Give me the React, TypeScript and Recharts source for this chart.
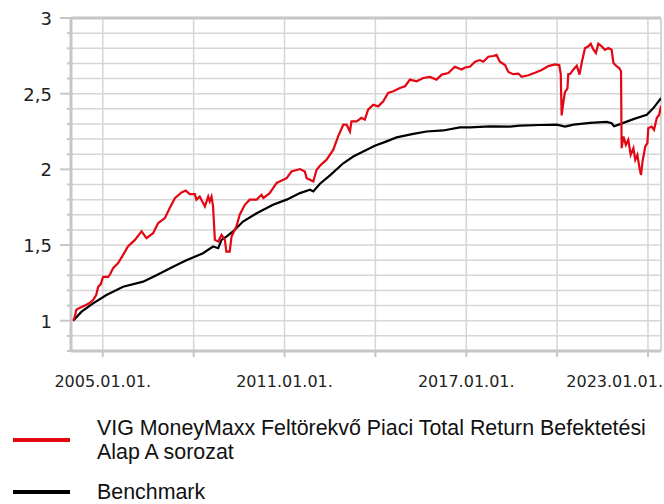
import React from "react";
import { LineChart, Line, XAxis, YAxis, CartesianGrid, ReferenceLine } from "recharts";

// Fund (red) series: time in fractional years, value = indexed NAV
const fundTimes = [
  2004.02, 2004.08, 2004.12, 2004.18, 2004.41, 2004.55, 2004.68, 2004.78, 2004.85, 2004.93,
  2005.01, 2005.18, 2005.25, 2005.34, 2005.5, 2005.67, 2005.83, 2006.06, 2006.28, 2006.44,
  2006.66, 2006.83, 2007.05, 2007.21, 2007.38, 2007.6, 2007.74, 2007.87, 2008.04, 2008.09,
  2008.2, 2008.37, 2008.48, 2008.53, 2008.59, 2008.64, 2008.7, 2008.81, 2008.92, 2009.03,
  2009.08, 2009.19, 2009.25, 2009.41, 2009.52, 2009.69, 2009.85, 2010.08, 2010.24, 2010.3,
  2010.51, 2010.74, 2011.07, 2011.23, 2011.51, 2011.67, 2011.73, 2011.84, 2011.95, 2012.06,
  2012.2, 2012.39, 2012.61, 2012.77, 2012.94, 2013.05, 2013.16, 2013.21, 2013.38, 2013.54,
  2013.65, 2013.76, 2013.93, 2014.09, 2014.26, 2014.42, 2014.59, 2014.81, 2014.98, 2015.14,
  2015.36, 2015.58, 2015.8, 2016.02, 2016.19, 2016.41, 2016.62, 2016.85, 2016.96, 2017.12,
  2017.29, 2017.45, 2017.56, 2017.73, 2017.89, 2018.0, 2018.11, 2018.28, 2018.39, 2018.55,
  2018.72, 2018.83, 2019.05, 2019.27, 2019.49, 2019.71, 2019.93, 2020.07, 2020.12, 2020.15,
  2020.21, 2020.26, 2020.34, 2020.37, 2020.43, 2020.54, 2020.65, 2020.74, 2020.81, 2020.92,
  2021.03, 2021.11, 2021.2, 2021.28, 2021.36, 2021.47, 2021.58, 2021.69, 2021.8, 2021.86,
  2021.97, 2022.05, 2022.11, 2022.13, 2022.19, 2022.27, 2022.35, 2022.43, 2022.52, 2022.58,
  2022.65, 2022.72, 2022.77, 2022.82, 2022.91, 2022.98, 2023.01, 2023.12, 2023.2, 2023.29,
  2023.37, 2023.43,
];
const fundValues = [
  1.0, 1.03, 1.07, 1.08, 1.1, 1.115, 1.137, 1.17, 1.225, 1.24,
  1.29, 1.29, 1.31, 1.347, 1.38, 1.435, 1.49, 1.534, 1.59, 1.545,
  1.578, 1.645, 1.678, 1.744, 1.81, 1.847, 1.86, 1.837, 1.837, 1.8,
  1.82, 1.755, 1.82, 1.788, 1.82, 1.755, 1.534, 1.523, 1.567, 1.534,
  1.457, 1.457, 1.556, 1.622, 1.7, 1.766, 1.8, 1.8, 1.832, 1.81,
  1.843, 1.91, 1.942, 1.986, 2.002, 1.986, 1.942, 1.931, 1.92, 1.997,
  2.03, 2.064, 2.13, 2.218, 2.295, 2.295, 2.25, 2.317, 2.317, 2.34,
  2.328, 2.394, 2.427, 2.416, 2.45, 2.505, 2.516, 2.538, 2.549, 2.593,
  2.582, 2.604, 2.611, 2.593, 2.626, 2.637, 2.678, 2.66, 2.673, 2.678,
  2.711, 2.722, 2.711, 2.744, 2.749, 2.756, 2.711, 2.689, 2.644, 2.629,
  2.633, 2.611, 2.622, 2.638, 2.656, 2.682, 2.693, 2.689, 2.63, 2.356,
  2.45, 2.511, 2.533, 2.63, 2.63, 2.66, 2.685, 2.626, 2.703, 2.8,
  2.813, 2.83, 2.79, 2.769, 2.83, 2.813, 2.79, 2.802, 2.79, 2.703,
  2.68, 2.67, 2.648, 2.14, 2.217, 2.162, 2.195, 2.096, 2.14, 2.063,
  2.096, 2.008, 1.963, 2.052, 2.151, 2.173, 2.272, 2.283, 2.261, 2.339,
  2.361, 2.42,
];

// Benchmark (black) series
const benchTimes = [
  2004.02, 2004.3, 2004.68, 2005.12, 2005.67, 2006.33, 2006.77, 2007.32, 2007.76, 2008.31,
  2008.64, 2008.81, 2008.92, 2009.08, 2009.3, 2009.63, 2010.08, 2010.62, 2011.07, 2011.51,
  2011.84, 2011.95, 2012.17, 2012.5, 2012.94, 2013.27, 2013.6, 2013.98, 2014.37, 2014.7,
  2015.25, 2015.69, 2016.24, 2016.79, 2017.12, 2017.78, 2018.44, 2018.77, 2019.43, 2019.99,
  2020.26, 2020.54, 2021.09, 2021.64, 2021.8, 2021.88, 2022.08, 2022.52, 2022.96, 2023.18,
  2023.43,
];
const benchValues = [
  1.0, 1.06, 1.115, 1.17, 1.225, 1.258, 1.3, 1.357, 1.4, 1.446,
  1.49, 1.479, 1.534, 1.556, 1.59, 1.655, 1.71, 1.766, 1.8, 1.843,
  1.865, 1.854, 1.905, 1.96, 2.04, 2.085, 2.118, 2.156, 2.185, 2.211,
  2.234, 2.25, 2.257, 2.277, 2.278, 2.284, 2.283, 2.289, 2.293, 2.296,
  2.283, 2.296, 2.307, 2.314, 2.305, 2.285, 2.299, 2.332, 2.361, 2.405,
  2.471,
];

const xTicks = [2005, 2008, 2011, 2014, 2017, 2020, 2023];
const xLabelled = [2005, 2011, 2017, 2023];
const yTicks = [0.8, 0.9, 1.0, 1.1, 1.2, 1.3, 1.4, 1.5, 1.6, 1.7, 1.8, 1.9, 2.0, 2.1, 2.2, 2.3, 2.4, 2.5, 2.6, 2.7, 2.8, 2.9, 3.0];
const yLabelled = [1, 1.5, 2, 2.5, 3];

const seriesNames = [
  ["VIG MoneyMaxx Feltörekvő Piaci Total Return Befektetési", "Alap A sorozat"],
  ["Benchmark"],
];

const fundData = fundTimes.map((t, i) => ({ t, v: fundValues[i] }));
const benchData = benchTimes.map((t, i) => ({ t, v: benchValues[i] }));

const X_MIN = 2003.95;
const X_MAX = 2023.43;
const AXIS_COLOR = "#c6c6c6";
const GRID_COLOR = "#d6d6d6";
const RED = "#e30613";
const CHART_W = 664;

const XTick = (props: any) => {
  const { x, y, payload } = props;
  const v = payload.value;
  const show = xLabelled.some((l) => Math.abs(l - v) < 1e-6);
  const label = `${v}.01.01.`;
  const isLast = v === xTicks[xTicks.length - 1];
  return (
    <g>
      <line x1={x} y1={y} x2={x} y2={y + 6} stroke={AXIS_COLOR} strokeWidth={2} />
      {show && (
        <text
          x={isLast ? CHART_W - 1 : x}
          y={y + 36}
          textAnchor={isLast ? "end" : "middle"}
          fontFamily="DejaVu Sans"
          fontSize={16}
          fill="#222"
        >
          {label}
        </text>
      )}
    </g>
  );
};

const YTick = (props: any) => {
  const { x, y, payload } = props;
  const v = payload.value;
  const major = yLabelled.some((l) => Math.abs(l - v) < 1e-6);
  return (
    <g>
      <line x1={major ? x - 11 : x - 4} y1={y} x2={x} y2={y} stroke={AXIS_COLOR} strokeWidth={2} />
      {major && (
        <text x={x - 19} y={y + 7} textAnchor="end" fontFamily="DejaVu Sans" fontSize={18} fill="#222">
          {String(Math.round(v * 10) / 10).replace(".", ",")}
        </text>
      )}
    </g>
  );
};

const LegendItem = ({ color, lines, top }: { color: string; lines: string[]; top: number }) => (
  <div style={{ position: "absolute", left: 0, top, display: "flex", alignItems: "center" }}>
    <div style={{ width: 57, height: 4, background: color, marginLeft: 13, marginRight: 27, flexShrink: 0 }} />
    <div
      style={{
        fontFamily: "Liberation Sans, Arial, sans-serif",
        fontSize: 21.4,
        lineHeight: "24px",
        color: "#111",
        whiteSpace: "nowrap",
      }}
    >
      {lines.map((l, i) => (
        <div key={i}>{l}</div>
      ))}
    </div>
  </div>
);

export default function App() {
  return (
    <div style={{ position: "absolute", left: 0, top: 0, width: CHART_W, height: 504, background: "#fff", overflow: "hidden" }}>
      <LineChart width={CHART_W} height={504} margin={{ top: 18, right: 3, left: 0, bottom: 103 }}>
        <CartesianGrid stroke={GRID_COLOR} strokeWidth={1.5} />
        <XAxis
          type="number"
          dataKey="t"
          domain={[X_MIN, X_MAX]}
          ticks={xTicks}
          allowDataOverflow
          height={50}
          tickSize={0}
          tickMargin={0}
          tickLine={false}
          axisLine={{ stroke: AXIS_COLOR, strokeWidth: 3 }}
          tick={<XTick />}
          interval={0}
        />
        <YAxis
          type="number"
          domain={[0.8, 3.0]}
          ticks={yTicks}
          allowDataOverflow
          width={71}
          tickSize={0}
          tickMargin={0}
          tickLine={false}
          axisLine={{ stroke: AXIS_COLOR, strokeWidth: 3 }}
          tick={<YTick />}
          interval={0}
        />
        <ReferenceLine y={3.0} stroke={AXIS_COLOR} strokeWidth={3} />
        <ReferenceLine x={X_MAX} stroke={GRID_COLOR} strokeWidth={2} />
        <Line data={benchData} dataKey="v" type="linear" stroke="#000" strokeWidth={2.2} dot={false} isAnimationActive={false} />
        <Line data={fundData} dataKey="v" type="linear" stroke={RED} strokeWidth={2.2} dot={false} isAnimationActive={false} />
      </LineChart>
      <LegendItem color={RED} lines={seriesNames[0]} top={416} />
      <LegendItem color="#000" lines={seriesNames[1]} top={480} />
    </div>
  );
}
